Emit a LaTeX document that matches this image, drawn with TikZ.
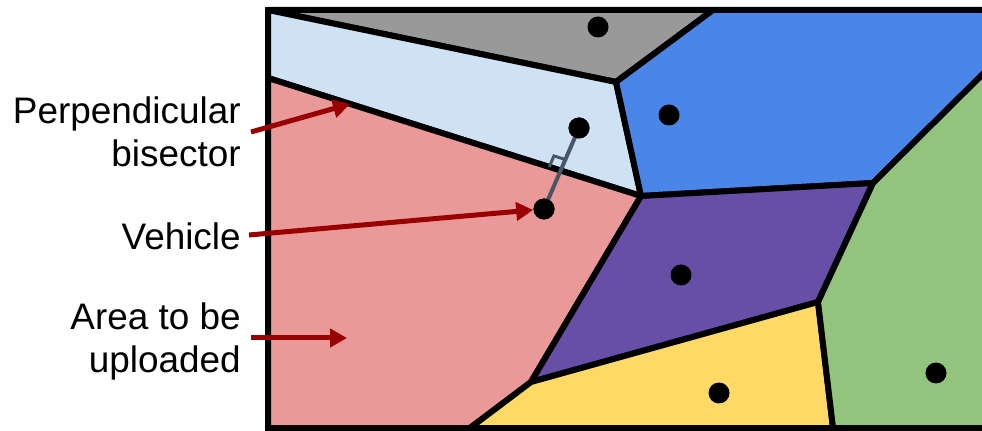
\documentclass[tikz,border=0pt]{standalone}
\usepackage{fontspec}
\setmainfont{Liberation Sans}
\usetikzlibrary{arrows.meta,calc}
\definecolor{cgray}{HTML}{999999}
\definecolor{clblue}{HTML}{CFE2F3}
\definecolor{cblue}{HTML}{4A86E8}
\definecolor{cpink}{HTML}{EA9999}
\definecolor{cpurple}{HTML}{674EA7}
\definecolor{cyellow}{HTML}{FFD966}
\definecolor{cgreen}{HTML}{93C47D}
\definecolor{cred}{HTML}{990000}
\definecolor{cperp}{HTML}{4A5568}
\begin{document}
\begin{tikzpicture}[x=0.02cm,y=-0.02cm,
  region/.style={draw=black,line width=0.12cm,line join=round},
  dot/.style={circle,fill=black,minimum size=0.42cm,inner sep=0pt},
  lbl/.style={font=\fontsize{21}{25}\selectfont,align=right,inner sep=0pt},
  redarrow/.style={draw=cred,line width=0.1cm,-{Triangle[length=0.34cm,width=0.36cm]}}]
\useasboundingbox (0,0) rectangle (982,431);
% vertices
\coordinate (TL) at (268,10);
\coordinate (TR) at (995,10);
\coordinate (A) at (713,10);
\coordinate (B) at (616,82);
\coordinate (C) at (641,196);
\coordinate (LB) at (268,78);
\coordinate (D) at (873,183);
\coordinate (R) at (995,62);
\coordinate (E) at (818,302);
\coordinate (F) at (531,382);
\coordinate (G) at (833,428);
\coordinate (H) at (470,428);
\coordinate (BL) at (268,428);
\coordinate (BR) at (995,428);
\begin{scope}
\clip (0,0) rectangle (982,431);
\filldraw[region,fill=cgray] (TL) -- (A) -- (B) -- cycle;
\filldraw[region,fill=clblue] (TL) -- (B) -- (C) -- (LB) -- cycle;
\filldraw[region,fill=cblue] (A) -- (TR) -- (R) -- (D) -- (C) -- (B) -- cycle;
\filldraw[region,fill=cpink] (LB) -- (C) -- (F) -- (H) -- (BL) -- cycle;
\filldraw[region,fill=cpurple] (C) -- (D) -- (E) -- (F) -- cycle;
\filldraw[region,fill=cyellow] (F) -- (E) -- (G) -- (H) -- cycle;
\filldraw[region,fill=cgreen] (D) -- (R) -- (BR) -- (G) -- (E) -- cycle;
\draw[line width=0.13cm] (TL) rectangle (1000,428);
\end{scope}
% dots
\node[dot] (gd) at (598,27) {};
\node[dot] (bd) at (669,115) {};
\node[dot] (lbd) at (579,128) {};
\node[dot] (vd) at (544,209) {};
\node[dot] (pd) at (681,275) {};
\node[dot] (yd) at (719,393) {};
\node[dot] (grd) at (936,373) {};
% perpendicular segment and right-angle mark
\coordinate (P) at (intersection of vd--lbd and LB--C);
\draw[cperp,line width=0.08cm] (vd.center) -- (lbd.center);
\coordinate (Pa) at ($(P)!0.24cm!(LB)$);
\coordinate (Pc) at ($(P)!0.24cm!(lbd)$);
\draw[cperp,line width=0.06cm] (Pa) -- ($(Pa)+(Pc)-(P)$) -- (Pc);
\node[dot] at (lbd) {};
\node[dot] at (vd) {};
% labels
\node[lbl,anchor=base east] (plbl) at (241,167) {Perpendicular\\bisector};
\node[lbl,anchor=base east] (vlbl) at (241,250) {Vehicle};
\node[lbl,anchor=base east] (albl) at (241,373) {Area to be\\uploaded};
% arrows
\coordinate (p0) at (251,132);
\coordinate (p1) at ($(LB)!0.22!(C)$);
\coordinate (v0) at (249,235);
\coordinate (a0) at (251,338);
\coordinate (a1) at (347,338);
\draw[redarrow] (p0) -- (p1);
\draw[redarrow] (v0) -- (vd);
\draw[redarrow] (a0) -- (a1);
\end{tikzpicture}
\end{document}
